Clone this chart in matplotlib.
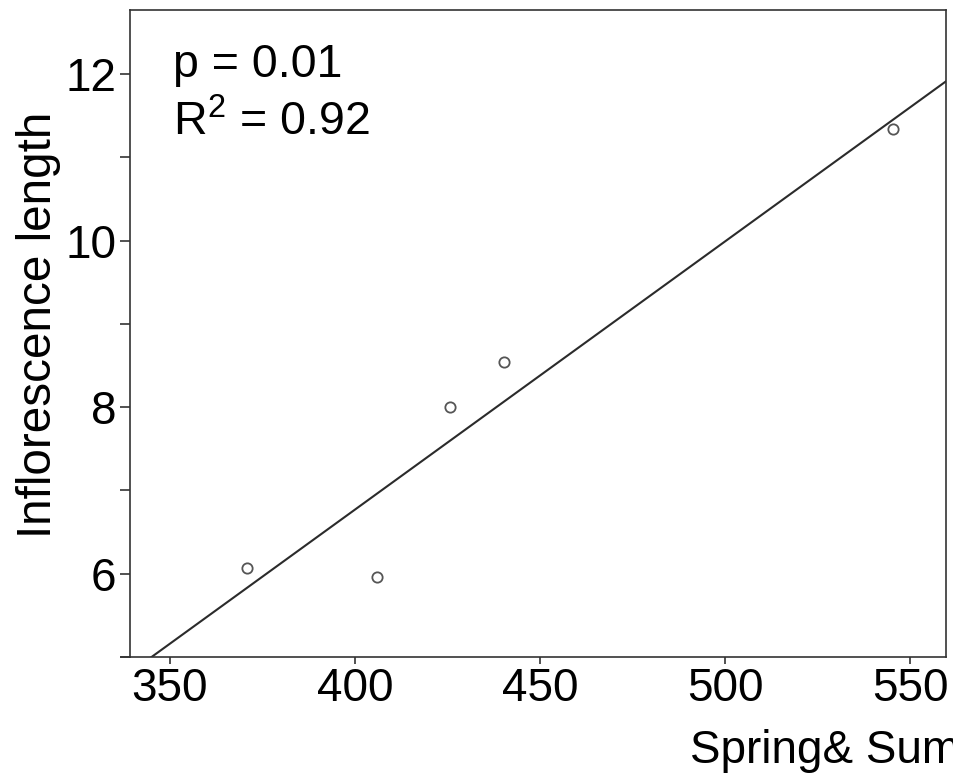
import numpy as np
import matplotlib
matplotlib.use("Agg")
import matplotlib.pyplot as plt
from matplotlib.ticker import MultipleLocator

# values
precip = [370.8, 405.9, 425.7, 440.3, 545.4]
infl_len = [6.07, 5.96, 8.00, 8.54, 11.34]
p_text = "p = 0.01"
r2_text = "R$^2$ = 0.92"
xlabel = "Spring& Summer"
ylabel = "Inflorescence length"

plt.rcParams["font.family"] = ["Liberation Sans", "DejaVu Sans"]
plt.rcParams["mathtext.fontset"] = "custom"
plt.rcParams["mathtext.rm"] = "Liberation Sans"

fig = plt.figure(figsize=(9.54, 7.8), dpi=100)
ax = fig.add_axes([130 / 954, 1 - 657 / 780, 816 / 954, 647 / 780])

xlim = (339.2, 559.7)
ylim = (5.0, 12.77)

# least squares fit line
slope, icpt = np.polyfit(precip, infl_len, 1)
xs = np.array(xlim)
ax.plot(xs, slope * xs + icpt, color="#2b2b2b", lw=1.5, zorder=2)

ax.scatter(precip, infl_len, s=55, facecolor="white", edgecolor="#555555",
           linewidth=1.3, zorder=3)

ax.set_xlim(*xlim)
ax.set_ylim(*ylim)
ax.xaxis.set_major_locator(MultipleLocator(50))
ax.yaxis.set_major_locator(MultipleLocator(2))
ax.yaxis.set_minor_locator(MultipleLocator(1))

for s in ax.spines.values():
    s.set_color("#333333")
    s.set_linewidth(1.2)

ax.tick_params(axis="both", which="both", direction="out", color="#333333",
               width=1.2, labelsize=33, labelcolor="black")
ax.tick_params(axis="y", which="both", length=7, pad=3)
ax.tick_params(axis="x", which="major", length=5, pad=2)

# bottom axis line runs a little past the left spine
ax.plot([-0.011, 0], [0, 0], transform=ax.transAxes, color="#333333",
        lw=1.2, clip_on=False)

ax.set_ylabel(ylabel, fontsize=34.3, labelpad=3)
ax.yaxis.label.set_y(0.513)
fig.text(690 / 954, 1 - 763 / 780, xlabel, fontsize=33, ha="left", va="baseline")

ax.text(0.0527, 0.8964, p_text, transform=ax.transAxes, fontsize=33.5, va="baseline")
ax.text(0.0527, 0.8068, r2_text, transform=ax.transAxes, fontsize=33.5, va="baseline")

fig.savefig("out.png", dpi=100)
